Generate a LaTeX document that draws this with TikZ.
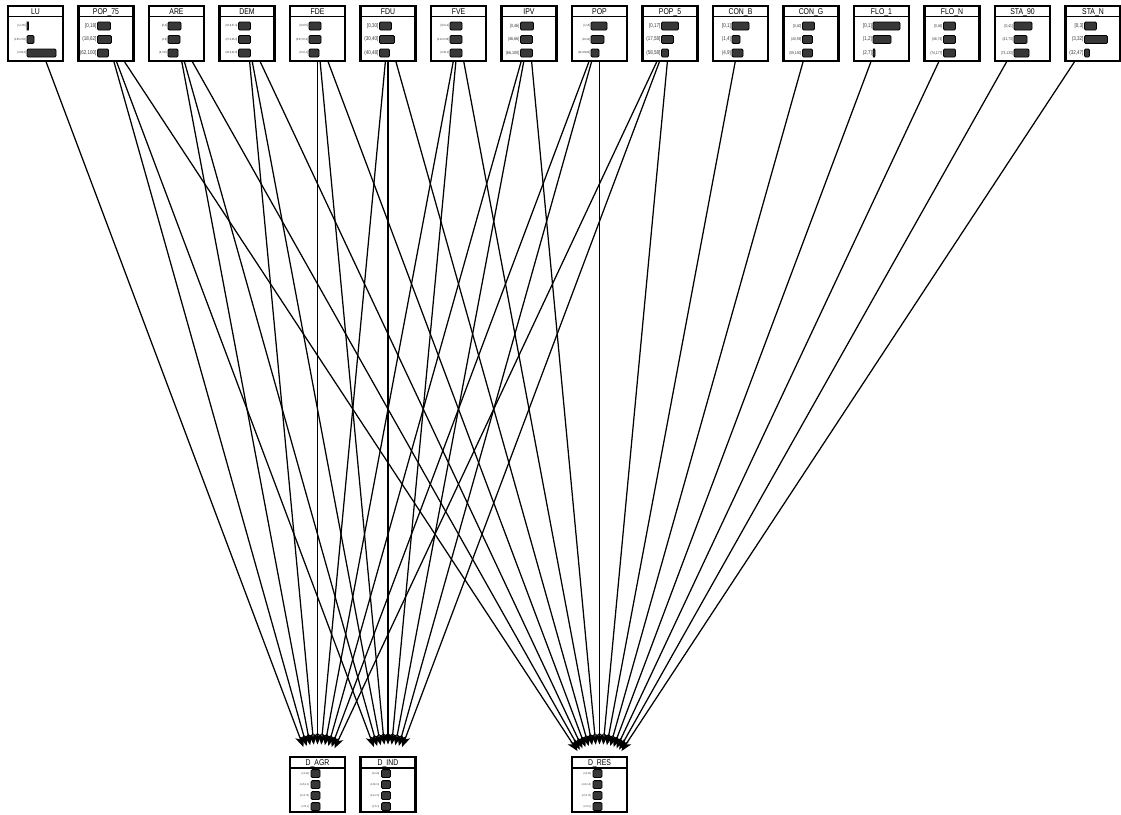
\documentclass[tikz,border=0pt]{standalone}
\usepackage{fontspec}
\setmainfont{Liberation Sans}
\newfontfamily\narrowsans{Liberation Sans}[FakeStretch=0.82]
\usetikzlibrary{arrows.meta,calc}

% size of the state labels, switched between groups of variables
\newcommand{\labsize}{5.5}

\tikzset{
  varbox/.style={draw, line width=2.1pt, minimum width=55pt, minimum height=55pt,
                 inner sep=0pt, fill=white},
  sepline/.style={line width=1.3pt},
  titletext/.style={font=\narrowsans\fontsize{8.4}{8.4}\selectfont, inner sep=0pt, anchor=base},
  labtext/.style={font=\narrowsans\fontsize{\labsize}{\labsize}\selectfont,
                  inner sep=0pt, anchor=east, text=black!80},
  bar/.style={draw=black, line width=0.8pt, fill=black!78, rounded corners=1.2pt},
  link/.style={line width=1.25pt, -{Stealth[length=11pt,width=9pt,inset=3pt]},
               shorten >=40pt},
}

% parent variable: name, left edge, title, three states with bar lengths
\newcommand{\VarTop}[9]{%
  \node[varbox] (#1) at ({#2+27.5},33.5) {};
  \draw[sepline] ({#2},16.5) -- ({#2+55},16.5);
  \node[titletext] at ({#2+27.5},14.4) {#3};
  \node[labtext] at ({#2+18},26) {#4};
  \draw[bar] ({#2+19},22) rectangle ++(#5,8);
  \node[labtext] at ({#2+18},39.5) {#6};
  \draw[bar] ({#2+19},35.5) rectangle ++(#7,8);
  \node[labtext] at ({#2+18},53) {#8};
  \draw[bar] ({#2+19},49) rectangle ++(#9,8);
}

% decision variable: name, left edge, title, four states
\newcommand{\VarBot}[7]{%
  \node[varbox] (#1) at ({#2+27.5},784.5) {};
  \draw[sepline] ({#2},768) -- ({#2+55},768);
  \node[titletext] at ({#2+27.5},765.2) {#3};
  \node[labtext] at ({#2+19},773.5) {#4};
  \draw[bar] ({#2+21},769.6) rectangle ++(9,7.8);
  \node[labtext] at ({#2+19},784.5) {#5};
  \draw[bar] ({#2+21},780.6) rectangle ++(9,7.8);
  \node[labtext] at ({#2+19},795.5) {#6};
  \draw[bar] ({#2+21},791.6) rectangle ++(9,7.8);
  \node[labtext] at ({#2+19},806.5) {#7};
  \draw[bar] ({#2+21},802.6) rectangle ++(9,7.8);
}

\begin{document}
\begin{tikzpicture}[x=1pt, y=-1pt]
\useasboundingbox[fill=white] (0,0) rectangle (1121,814);

% ---- parent variables ----
\renewcommand{\labsize}{3}
\VarTop{LU}{8}{LU}{[1,1.65]}{1.5}{(1.65,2.03]}{7}{(2.03,3]}{29}
\renewcommand{\labsize}{5.5}
\VarTop{POPsf}{78.5}{POP\_75}{[0,18]}{13}{(18,62]}{14}{(62,100]}{11}
\renewcommand{\labsize}{3}
\VarTop{ARE}{149}{ARE}{[0,4]}{13}{(4,8]}{12}{(8,+inf)}{10}
\VarTop{DEM}{219.5}{DEM}{[18.6,27.4]}{12}{(27.4,28.3]}{12}{(28.3,32.0]}{12}
\VarTop{FDE}{290}{FDE}{[0,0.07]}{12}{(0.07,0.12]}{12}{(0.12,1]}{10}
\renewcommand{\labsize}{5.5}
\VarTop{FDU}{360.5}{FDU}{[0,30]}{12}{(30,40]}{15}{(40,48]}{10}
\renewcommand{\labsize}{3}
\VarTop{FVE}{431}{FVE}{[0,0.12]}{12}{(0.12,0.38]}{12}{(0.38,1]}{12}
\renewcommand{\labsize}{4.5}
\VarTop{IPV}{501.5}{IPV}{[0,46]}{13}{(46,66]}{12}{(66,100]}{12}
\renewcommand{\labsize}{3}
\VarTop{POP}{572}{POP}{[1,18]}{16}{(18,44]}{13}{(44,16445]}{8}
\renewcommand{\labsize}{5.5}
\VarTop{POPf}{642.5}{POP\_5}{[0,17]}{17}{(17,58]}{12}{(58,58]}{7}
\VarTop{CONB}{713}{CON\_B}{[0,1]}{17}{(1,4]}{8}{(4,9]}{11}
\renewcommand{\labsize}{4}
\VarTop{CONG}{783.5}{CON\_G}{[0,40]}{12}{(40,59]}{10}{(59,150]}{10}
\renewcommand{\labsize}{5.5}
\VarTop{FLOa}{854}{FLO\_1}{[0,1]}{27}{(1,2]}{18}{(2,7]}{2}
\renewcommand{\labsize}{4}
\VarTop{FLON}{924.5}{FLO\_N}{[0,46]}{12}{(46,74]}{12}{(74,177]}{12}
\VarTop{STAn}{995}{STA\_90}{[0,41]}{18}{(41,73]}{13}{(73,133]}{15}
\renewcommand{\labsize}{5.5}
\VarTop{STAN}{1065.5}{STA\_N}{[0,3]}{12}{(3,32]}{23}{(32,47]}{5}

% ---- decision variables ----
\renewcommand{\labsize}{2.6}
\VarBot{DAGR}{290}{D\_AGR}{[0,0.25]}{(0.25,0.5]}{(0.5,0.75]}{(0.75,1]}
\VarBot{DIND}{360.5}{D\_IND}{[0,0.25]}{(0.25,0.5]}{(0.5,0.75]}{(0.75,1]}
\VarBot{DRES}{572}{D\_RES}{[0,0.25]}{(0.25,0.5]}{(0.5,0.75]}{(0.75,1]}

% ---- dependencies ----
\foreach \s in {LU,POPsf,ARE,DEM,FDE,FDU,FVE,IPV,POP,POPf}
  \draw[link] (\s) -- (DAGR.center);
\foreach \s in {POPsf,ARE,DEM,FDE,FDU,FVE,IPV,POP,POPf}
  \draw[link] (\s) -- (DIND.center);
\foreach \s in {POPsf,ARE,DEM,FDE,FDU,FVE,IPV,POP,POPf,CONB,CONG,FLOa,FLON,STAn,STAN}
  \draw[link] (\s) -- (DRES.center);
\end{tikzpicture}
\end{document}
